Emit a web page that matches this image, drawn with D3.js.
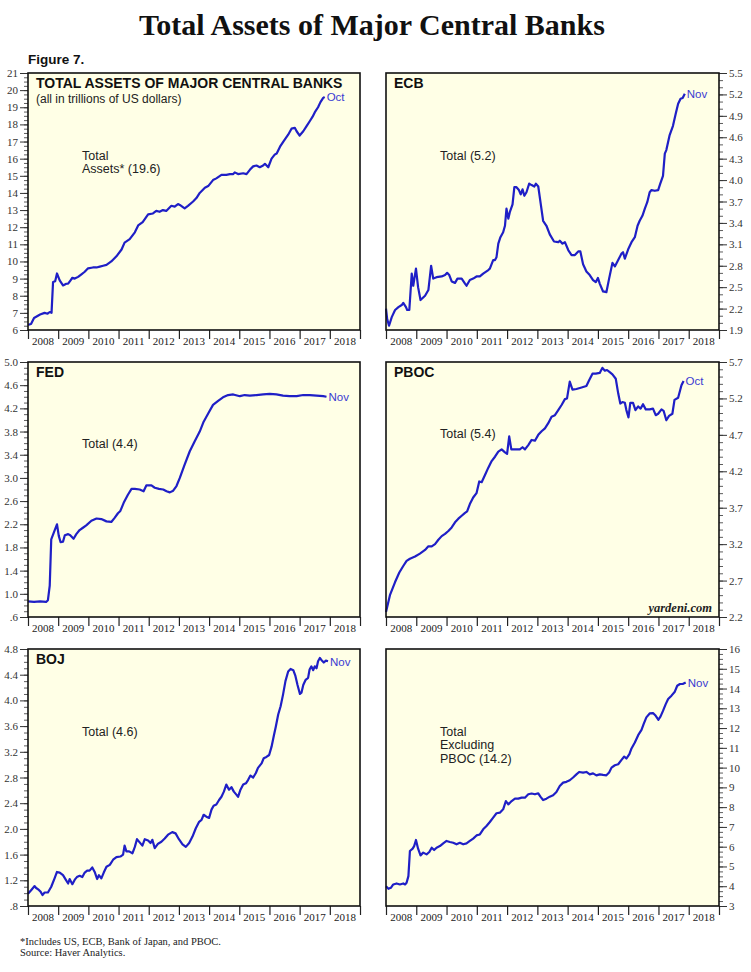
<!DOCTYPE html>
<html><head><meta charset="utf-8">
<script src="https://cdn.jsdelivr.net/npm/d3@7"></script>
<style>body{margin:0;background:#fff}svg{display:block}</style>
</head><body><svg id="c" width="751" height="972"></svg>
<script>
// ---------- DATA ----------
const years = [2008,2009,2010,2011,2012,2013,2014,2015,2016,2017,2018];

const totalTicks = [6,7,8,9,10,11,12,13,14,15,16,17,18,19,20,21];
const ecbTicks = [1.9,2.2,2.5,2.8,3.1,3.4,3.7,4.0,4.3,4.6,4.9,5.2,5.5];
const fedTicks = [0.6,1.0,1.4,1.8,2.2,2.6,3.0,3.4,3.8,4.2,4.6,5.0];
const pbocTicks = [2.2,2.7,3.2,3.7,4.2,4.7,5.2,5.7];
const bojTicks = [0.8,1.2,1.6,2.0,2.4,2.8,3.2,3.6,4.0,4.4,4.8];
const exPbocTicks = [3,4,5,6,7,8,9,10,11,12,13,14,15,16];

// [decimal year, trillions of US$]
const totalAssets = [[2008.0,6.3],[2008.1,6.35],[2008.2,6.7],[2008.4,6.9],[2008.55,7.0],[2008.65,6.95],[2008.72,7.05],[2008.78,7.0],[2008.83,8.8],[2008.9,8.85],[2008.96,9.3],[2009.05,8.9],[2009.16,8.6],[2009.27,8.7],[2009.33,8.7],[2009.41,8.9],[2009.47,9.05],[2009.55,9.0],[2009.66,9.1],[2009.77,9.25],[2009.88,9.4],[2009.99,9.6],[2010.15,9.65],[2010.27,9.65],[2010.38,9.7],[2010.49,9.75],[2010.6,9.8],[2010.76,10.0],[2010.93,10.3],[2011.1,10.7],[2011.2,11.1],[2011.37,11.3],[2011.54,11.7],[2011.65,12.1],[2011.8,12.3],[2011.98,12.75],[2012.14,12.8],[2012.25,12.95],[2012.36,12.9],[2012.47,13.0],[2012.58,12.95],[2012.75,13.25],[2012.86,13.2],[2012.97,13.35],[2013.03,13.3],[2013.19,13.1],[2013.3,13.25],[2013.47,13.5],[2013.58,13.7],[2013.69,14.0],[2013.86,14.3],[2013.97,14.4],[2014.13,14.75],[2014.24,14.85],[2014.41,15.05],[2014.57,15.05],[2014.69,15.1],[2014.8,15.1],[2014.85,15.2],[2014.96,15.1],[2015.13,15.15],[2015.24,15.1],[2015.35,15.35],[2015.46,15.55],[2015.57,15.6],[2015.68,15.5],[2015.79,15.6],[2015.85,15.7],[2015.96,15.5],[2016.07,16.0],[2016.18,16.25],[2016.24,16.3],[2016.35,16.7],[2016.46,17.0],[2016.54,17.2],[2016.62,17.4],[2016.73,17.75],[2016.84,17.8],[2016.9,17.6],[2017.0,17.35],[2017.12,17.6],[2017.23,17.9],[2017.34,18.2],[2017.43,18.45],[2017.5,18.7],[2017.61,19.0],[2017.69,19.3],[2017.78,19.55],[2017.83,19.6]];

const ecb = [[2008.0,2.2],[2008.04,2.05],[2008.1,1.96],[2008.19,2.08],[2008.3,2.18],[2008.41,2.22],[2008.52,2.25],[2008.57,2.28],[2008.66,2.22],[2008.7,2.18],[2008.77,2.18],[2008.85,2.69],[2008.9,2.52],[2008.99,2.76],[2009.06,2.5],[2009.14,2.32],[2009.29,2.38],[2009.4,2.46],[2009.49,2.8],[2009.56,2.62],[2009.67,2.64],[2009.84,2.65],[2009.95,2.67],[2010.02,2.7],[2010.09,2.67],[2010.17,2.58],[2010.28,2.56],[2010.36,2.62],[2010.5,2.62],[2010.61,2.55],[2010.66,2.52],[2010.77,2.6],[2010.88,2.62],[2010.99,2.65],[2011.1,2.65],[2011.21,2.69],[2011.38,2.74],[2011.43,2.76],[2011.54,2.88],[2011.6,2.88],[2011.65,2.92],[2011.71,3.11],[2011.78,3.2],[2011.87,3.27],[2011.93,3.36],[2011.98,3.6],[2012.04,3.46],[2012.09,3.55],[2012.18,3.66],[2012.24,3.9],[2012.31,3.9],[2012.39,3.86],[2012.45,3.8],[2012.51,3.87],[2012.57,3.78],[2012.64,3.83],[2012.73,3.95],[2012.81,3.93],[2012.9,3.91],[2012.95,3.95],[2013.03,3.91],[2013.11,3.67],[2013.19,3.43],[2013.3,3.36],[2013.41,3.24],[2013.55,3.14],[2013.69,3.13],[2013.74,3.15],[2013.83,3.11],[2013.91,3.13],[2014.02,3.02],[2014.13,2.95],[2014.24,2.95],[2014.35,3.0],[2014.42,3.0],[2014.51,2.82],[2014.62,2.72],[2014.73,2.67],[2014.84,2.6],[2014.93,2.57],[2015.0,2.63],[2015.06,2.55],[2015.17,2.44],[2015.28,2.43],[2015.37,2.62],[2015.48,2.84],[2015.56,2.79],[2015.67,2.88],[2015.78,2.97],[2015.83,2.99],[2015.89,2.9],[2016.0,3.03],[2016.11,3.13],[2016.22,3.2],[2016.31,3.36],[2016.38,3.43],[2016.47,3.5],[2016.55,3.6],[2016.63,3.69],[2016.71,3.83],[2016.77,3.86],[2016.88,3.85],[2016.99,3.86],[2017.06,3.95],[2017.15,4.06],[2017.21,4.37],[2017.26,4.42],[2017.37,4.63],[2017.48,4.76],[2017.57,4.93],[2017.65,5.07],[2017.73,5.14],[2017.8,5.15],[2017.87,5.21]];

const fed = [[2008.0,0.87],[2008.2,0.86],[2008.4,0.87],[2008.6,0.86],[2008.66,0.89],[2008.72,1.14],[2008.77,1.94],[2008.88,2.09],[2008.96,2.2],[2009.02,2.0],[2009.08,1.89],[2009.16,1.9],[2009.22,2.01],[2009.33,2.03],[2009.4,2.01],[2009.51,1.95],[2009.6,2.03],[2009.71,2.1],[2009.82,2.14],[2009.93,2.18],[2010.1,2.26],[2010.27,2.3],[2010.43,2.29],[2010.6,2.25],[2010.76,2.24],[2010.87,2.31],[2010.98,2.39],[2011.06,2.43],[2011.17,2.57],[2011.31,2.71],[2011.43,2.81],[2011.54,2.81],[2011.7,2.8],[2011.83,2.77],[2011.92,2.87],[2012.09,2.87],[2012.2,2.83],[2012.34,2.81],[2012.48,2.8],[2012.59,2.77],[2012.7,2.75],[2012.81,2.78],[2012.92,2.86],[2013.03,3.0],[2013.19,3.23],[2013.36,3.46],[2013.52,3.63],[2013.69,3.8],[2013.82,3.97],[2013.97,4.11],[2014.13,4.26],[2014.3,4.33],[2014.46,4.39],[2014.63,4.43],[2014.8,4.44],[2015.02,4.41],[2015.18,4.43],[2015.35,4.42],[2015.57,4.43],[2015.79,4.44],[2016.01,4.45],[2016.23,4.44],[2016.45,4.42],[2016.67,4.41],[2016.9,4.41],[2017.12,4.43],[2017.34,4.43],[2017.56,4.42],[2017.78,4.41],[2017.89,4.4]];

const pboc = [[2008.0,2.27],[2008.13,2.5],[2008.3,2.68],[2008.44,2.81],[2008.57,2.9],[2008.68,2.97],[2008.79,3.0],[2008.96,3.03],[2009.12,3.07],[2009.29,3.12],[2009.4,3.17],[2009.51,3.17],[2009.62,3.2],[2009.73,3.26],[2009.84,3.31],[2009.95,3.34],[2010.06,3.38],[2010.17,3.43],[2010.28,3.5],[2010.39,3.55],[2010.5,3.59],[2010.61,3.63],[2010.68,3.65],[2010.77,3.75],[2010.88,3.84],[2010.99,3.9],[2011.08,4.06],[2011.16,4.05],[2011.27,4.15],[2011.38,4.25],[2011.49,4.34],[2011.6,4.4],[2011.71,4.47],[2011.82,4.5],[2011.93,4.46],[2012.0,4.44],[2012.07,4.68],[2012.14,4.5],[2012.26,4.5],[2012.42,4.5],[2012.51,4.53],[2012.59,4.5],[2012.7,4.56],[2012.81,4.63],[2012.92,4.62],[2013.03,4.7],[2013.14,4.75],[2013.25,4.79],[2013.36,4.86],[2013.47,4.95],[2013.58,4.97],[2013.69,5.04],[2013.8,5.11],[2013.91,5.19],[2013.98,5.2],[2014.07,5.43],[2014.16,5.32],[2014.29,5.33],[2014.46,5.35],[2014.62,5.37],[2014.71,5.45],[2014.82,5.54],[2014.93,5.54],[2015.06,5.55],[2015.15,5.62],[2015.23,5.58],[2015.3,5.59],[2015.39,5.56],[2015.48,5.53],[2015.59,5.47],[2015.67,5.27],[2015.74,5.13],[2015.81,5.15],[2015.89,5.14],[2015.94,5.04],[2016.01,4.94],[2016.07,5.14],[2016.16,5.14],[2016.24,5.04],[2016.33,5.09],[2016.41,5.06],[2016.49,5.12],[2016.58,5.05],[2016.71,5.05],[2016.82,5.06],[2016.91,4.97],[2016.99,4.99],[2017.1,5.05],[2017.17,5.03],[2017.26,4.9],[2017.35,4.96],[2017.46,4.99],[2017.53,5.18],[2017.65,5.21],[2017.76,5.38],[2017.83,5.44]];

const boj = [[2008.0,0.99],[2008.11,1.05],[2008.22,1.11],[2008.27,1.08],[2008.36,1.05],[2008.42,1.02],[2008.48,0.97],[2008.55,1.01],[2008.66,1.01],[2008.77,1.1],[2008.88,1.23],[2008.96,1.33],[2009.05,1.32],[2009.16,1.28],[2009.25,1.21],[2009.33,1.15],[2009.38,1.22],[2009.47,1.14],[2009.55,1.21],[2009.62,1.25],[2009.71,1.27],[2009.8,1.25],[2009.88,1.32],[2009.96,1.35],[2010.04,1.35],[2010.13,1.4],[2010.21,1.33],[2010.29,1.22],[2010.35,1.28],[2010.43,1.23],[2010.51,1.32],[2010.6,1.41],[2010.71,1.44],[2010.82,1.52],[2010.93,1.56],[2011.06,1.57],[2011.15,1.6],[2011.2,1.74],[2011.26,1.65],[2011.35,1.65],[2011.46,1.62],[2011.54,1.72],[2011.61,1.84],[2011.7,1.79],[2011.79,1.74],[2011.87,1.84],[2011.98,1.82],[2012.06,1.78],[2012.12,1.83],[2012.2,1.7],[2012.31,1.77],[2012.42,1.8],[2012.53,1.85],[2012.64,1.91],[2012.78,1.95],[2012.89,1.93],[2013.0,1.84],[2013.12,1.76],[2013.23,1.72],[2013.34,1.78],[2013.45,1.88],[2013.56,2.01],[2013.67,2.11],[2013.75,2.14],[2013.82,2.22],[2013.91,2.19],[2014.0,2.17],[2014.08,2.3],[2014.15,2.36],[2014.24,2.38],[2014.33,2.45],[2014.41,2.5],[2014.49,2.58],[2014.57,2.69],[2014.66,2.61],[2014.74,2.65],[2014.82,2.58],[2014.91,2.53],[2014.96,2.5],[2015.04,2.61],[2015.13,2.69],[2015.22,2.71],[2015.29,2.76],[2015.37,2.83],[2015.46,2.8],[2015.55,2.87],[2015.62,2.95],[2015.74,3.02],[2015.81,3.1],[2015.9,3.12],[2015.99,3.15],[2016.07,3.28],[2016.15,3.46],[2016.21,3.59],[2016.29,3.78],[2016.37,3.91],[2016.45,4.09],[2016.53,4.3],[2016.62,4.45],[2016.7,4.49],[2016.79,4.47],[2016.86,4.38],[2016.93,4.24],[2017.01,4.1],[2017.06,4.12],[2017.12,4.24],[2017.2,4.32],[2017.28,4.35],[2017.33,4.48],[2017.39,4.53],[2017.45,4.47],[2017.5,4.53],[2017.56,4.5],[2017.61,4.61],[2017.67,4.66],[2017.72,4.63],[2017.8,4.59],[2017.87,4.62],[2017.94,4.61]];

const exPboc = [[2008.0,4.0],[2008.08,3.87],[2008.16,3.92],[2008.24,4.09],[2008.35,4.14],[2008.46,4.09],[2008.57,4.14],[2008.63,4.09],[2008.68,4.18],[2008.74,4.51],[2008.79,5.78],[2008.88,5.9],[2008.93,6.03],[2008.99,6.34],[2009.06,5.9],[2009.14,5.56],[2009.23,5.7],[2009.34,5.61],[2009.43,5.73],[2009.51,5.95],[2009.59,5.83],[2009.67,5.95],[2009.78,6.03],[2009.89,6.17],[2010.0,6.29],[2010.11,6.24],[2010.22,6.2],[2010.33,6.12],[2010.44,6.2],[2010.55,6.12],[2010.66,6.17],[2010.77,6.29],[2010.88,6.41],[2010.99,6.57],[2011.1,6.62],[2011.21,6.88],[2011.32,7.05],[2011.43,7.25],[2011.54,7.47],[2011.65,7.69],[2011.76,7.72],[2011.87,7.89],[2011.96,8.31],[2012.04,8.14],[2012.15,8.31],[2012.26,8.43],[2012.37,8.43],[2012.48,8.48],[2012.59,8.48],[2012.7,8.65],[2012.81,8.69],[2012.92,8.65],[2013.03,8.7],[2013.1,8.53],[2013.19,8.36],[2013.3,8.43],[2013.41,8.53],[2013.52,8.6],[2013.63,8.77],[2013.74,9.07],[2013.85,9.24],[2013.96,9.28],[2014.07,9.36],[2014.18,9.5],[2014.29,9.66],[2014.38,9.78],[2014.51,9.75],[2014.62,9.78],[2014.73,9.66],[2014.84,9.71],[2014.95,9.61],[2015.06,9.66],[2015.17,9.63],[2015.28,9.61],[2015.37,9.75],[2015.45,10.0],[2015.56,10.12],[2015.67,10.17],[2015.78,10.39],[2015.87,10.56],[2015.94,10.46],[2016.04,10.68],[2016.11,10.97],[2016.22,11.27],[2016.33,11.64],[2016.44,11.91],[2016.51,12.2],[2016.6,12.54],[2016.71,12.74],[2016.82,12.76],[2016.91,12.62],[2017.0,12.42],[2017.07,12.59],[2017.15,12.87],[2017.24,13.21],[2017.32,13.47],[2017.43,13.64],[2017.54,13.84],[2017.62,14.14],[2017.71,14.23],[2017.8,14.23],[2017.9,14.31]];

// ---------- LAYOUT ----------
const cols = [[28,360],[386,719]];
const rows = [[73,330],[362,617],[649,906]];
const SANS = "'Liberation Sans', Arial, sans-serif";
const SERIF = "'Liberation Serif', 'Times New Roman', serif";
const LINE = "#1f1fc6", ENDC = "#3a3ad2", BG = "#ffffe6";

const fmt1 = v => v < 1 ? ("" + v.toFixed(1)).replace(/^0/, "") : v.toFixed(1);
const panels = [
  {data: totalAssets, c:0, r:0, ticks: totalTicks, minor:0.25, fmt: v => String(v), end:"Oct",
   title:"TOTAL ASSETS OF MAJOR CENTRAL BANKS", sub:"(all in trillions of US dollars)", note:["Total","Assets* (19.6)"], noteDy:87},
  {data: ecb, c:1, r:0, ticks: ecbTicks, minor:0.1, fmt: fmt1, end:"Nov", title:"ECB", note:["Total (5.2)"], noteDy:87},
  {data: fed, c:0, r:1, ticks: fedTicks, minor:0.1, fmt: fmt1, end:"Nov", title:"FED", note:["Total (4.4)"], noteDy:86},
  {data: pboc, c:1, r:1, ticks: pbocTicks, minor:0.1, fmt: fmt1, end:"Oct", title:"PBOC", note:["Total (5.4)"], noteDy:76, credit:true},
  {data: boj, c:0, r:2, ticks: bojTicks, minor:0.1, fmt: fmt1, end:"Nov", title:"BOJ", note:["Total (4.6)"], noteDy:87},
  {data: exPboc, c:1, r:2, ticks: exPbocTicks, minor:0.25, fmt: v => String(v), end:"Nov", title:"", note:["Total","Excluding","PBOC (14.2)"], noteDy:87}
];

const svg = d3.select("#c");
svg.append("rect").attr("width",751).attr("height",972).attr("fill","#fff");

svg.append("text").attr("x",372).attr("y",35).attr("text-anchor","middle")
  .attr("font-family",SERIF).attr("font-weight","bold").attr("font-size",30).attr("fill","#111")
  .text("Total Assets of Major Central Banks");
svg.append("text").attr("x",28).attr("y",64).attr("font-family",SANS).attr("font-weight","bold")
  .attr("font-size",13.5).attr("fill","#111").text("Figure 7.");

panels.forEach(p => {
  const [x0,x1] = cols[p.c], [y0,y1] = rows[p.r];
  const x = d3.scaleLinear().domain([2008,2019]).range([x0,x1]);
  const dom = [p.ticks[0], p.ticks[p.ticks.length-1]];
  const y = d3.scaleLinear().domain(dom).range([y1,y0]);
  const g = svg.append("g");
  const left = p.c === 0;

  g.append("rect").attr("x",x0).attr("y",y0).attr("width",x1-x0).attr("height",y1-y0).attr("fill",BG);

  // minor ticks
  const nMinor = Math.round((dom[1]-dom[0])/p.minor);
  const minors = d3.range(nMinor+1).map(i => dom[0] + i*p.minor);
  const minorAxis = (left ? d3.axisLeft(y) : d3.axisRight(y)).tickValues(minors).tickSize(4).tickFormat("");
  const ma = g.append("g").attr("transform",`translate(${left?x0:x1},0)`).call(minorAxis);
  ma.select(".domain").remove();
  ma.selectAll("line").attr("stroke","#333").attr("stroke-width",0.8);

  // major ticks
  const axis = (left ? d3.axisLeft(y) : d3.axisRight(y)).tickValues(p.ticks).tickSize(8).tickPadding(2).tickFormat(p.fmt);
  const ya = g.append("g").attr("transform",`translate(${left?x0:x1},0)`).call(axis);
  ya.select(".domain").remove();
  ya.selectAll("line").attr("stroke","#333").attr("stroke-width",1);
  ya.selectAll("text").attr("font-family",SERIF).attr("font-size",11).attr("fill","#333");

  // year axis
  const xa = d3.axisBottom(x).tickValues(years.concat([2019])).tickSize(9).tickFormat("");
  const xg = g.append("g").attr("transform",`translate(0,${y1})`).call(xa);
  xg.select(".domain").remove();
  xg.selectAll("line").attr("stroke","#222").attr("stroke-width",1.2);
  g.selectAll(".yl").data(years).join("text")
    .attr("x", d => x(d+0.5)).attr("y", y1+15).attr("text-anchor","middle")
    .attr("font-family",SERIF).attr("font-size",11).attr("fill","#222").text(d => d);

  // line
  g.append("path").datum(p.data)
    .attr("d", d3.line().x(d => x(d[0])).y(d => y(d[1])))
    .attr("fill","none").attr("stroke",LINE).attr("stroke-width",2.2).attr("stroke-linejoin","round");

  const last = p.data[p.data.length-1];
  g.append("text").attr("x", x(last[0])+2).attr("y", y(last[1])+4.5)
    .attr("font-family",SANS).attr("font-size",11.5).attr("fill",ENDC).text(p.end);

  // frame
  g.append("rect").attr("x",x0).attr("y",y0).attr("width",x1-x0).attr("height",y1-y0)
    .attr("fill","none").attr("stroke","#111").attr("stroke-width",1.6);

  if (p.title) g.append("text").attr("x",x0+8).attr("y",y0+15).attr("font-family",SANS)
    .attr("font-weight","bold").attr("font-size",14).attr("fill","#111").text(p.title);
  if (p.sub) g.append("text").attr("x",x0+8).attr("y",y0+30).attr("font-family",SANS)
    .attr("font-size",12).attr("fill","#222").text(p.sub);
  p.note.forEach((t,i) => g.append("text").attr("x",x0+54).attr("y",y0+p.noteDy+i*13.3)
    .attr("font-family",SANS).attr("font-size",12.5).attr("fill","#222").text(t));
  if (p.credit) g.append("text").attr("x",x1-7).attr("y",y1-5).attr("text-anchor","end")
    .attr("font-family",SERIF).attr("font-style","italic").attr("font-weight","bold")
    .attr("font-size",12.5).attr("fill","#222").text("yardeni.com");
});

svg.append("text").attr("x",20).attr("y",945).attr("font-family",SERIF).attr("font-size",10.5)
  .attr("fill","#222").text("*Includes US, ECB, Bank of Japan, and PBOC.");
svg.append("text").attr("x",20).attr("y",956).attr("font-family",SERIF).attr("font-size",10.5)
  .attr("fill","#222").text("Source: Haver Analytics.");
</script></body></html>
